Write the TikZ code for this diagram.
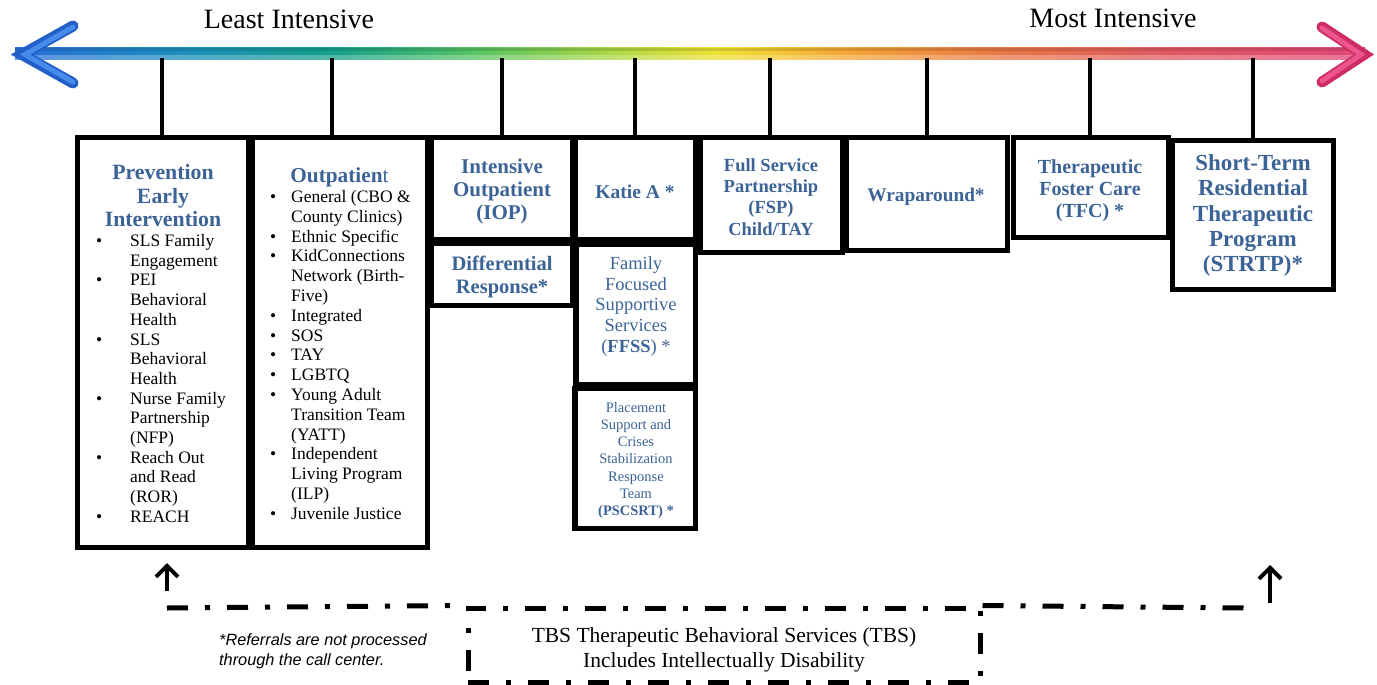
\documentclass[tikz,border=0pt]{standalone}
\usepackage{fontspec}
\setmainfont{Liberation Serif}
\setsansfont{Liberation Sans}
\usetikzlibrary{arrows.meta}
\definecolor{tblue}{RGB}{60,99,150}
\definecolor{sc0}{RGB}{40,110,215}
\definecolor{sc1}{RGB}{30,140,195}
\definecolor{sc2}{RGB}{20,160,140}
\definecolor{sc3}{RGB}{85,195,100}
\definecolor{sc4}{RGB}{165,215,70}
\definecolor{sc5}{RGB}{240,225,50}
\definecolor{sc6}{RGB}{245,165,55}
\definecolor{sc7}{RGB}{232,120,70}
\definecolor{sc8}{RGB}{225,92,95}
\definecolor{sc9}{RGB}{225,70,120}
\definecolor{lhdark}{RGB}{35,95,200}
\definecolor{lhlight}{RGB}{70,140,235}
\definecolor{rhdark}{RGB}{205,45,100}
\definecolor{rhlight}{RGB}{235,85,140}
\pgfdeclarehorizontalshading{spectrum}{100bp}{color(0bp)=(sc0); color(25bp)=(sc0); color(30.4bp)=(sc1); color(36.7bp)=(sc2); color(41.9bp)=(sc3); color(46.7bp)=(sc4); color(51.1bp)=(sc5); color(55.9bp)=(sc6); color(61.5bp)=(sc7); color(67bp)=(sc8); color(75bp)=(sc9); color(100bp)=(sc9)}
\newcommand\fsz[2]{\fontsize{#1}{#2}\selectfont}
\begin{document}
\begin{tikzpicture}[x=1pt,y=-1pt,
  box/.style={draw=black, line width=5pt, inner sep=0pt},
  boxline/.style={line width=5pt},
  tick/.style={line width=4pt},
  ttl/.style={text=tblue, align=center, inner sep=0pt},
  lst/.style={inner sep=0pt, anchor=base west},
  dashdot/.style={line width=5pt, dash pattern=on 21pt off 17pt on 5pt off 17pt},
  uparrow/.style={line width=4pt, -{Straight Barb[length=11pt,width=22pt]}}
]
\useasboundingbox (0,0) rectangle (1377,685);

% ---- spectrum axis ----
\shade[shading=spectrum] (15,48) rectangle (1365,60);
\fill[black, opacity=0.12] (15,48) rectangle (1365,51);
\fill[white, opacity=0.25] (15,55) rectangle (1365,60);
\coordinate (axis) at (0,58);
\draw[lhdark, line width=11pt, line cap=round, line join=miter] (73,26) -- (22,54.5) -- (73,83);
\draw[lhlight, line width=5pt, line cap=round, line join=miter] (73,27) -- (25,54.5) -- (73,82);
\draw[rhdark, line width=11pt, line cap=round, line join=miter] (1322,27) -- (1364,54.5) -- (1322,82);
\draw[rhlight, line width=5pt, line cap=round, line join=miter] (1322,28) -- (1361,54.5) -- (1322,81);

\node[inner sep=0pt, font=\fsz{28}{32}] (least) at (289,19) {Least Intensive};
\node[inner sep=0pt, font=\fsz{28}{32}] (most) at (1113,18) {Most Intensive};

% ---- boxes ----
\node[box, minimum width=171pt, minimum height=410pt] (pei) at (163,342.5) {};
\node[box, minimum width=174.5pt, minimum height=410pt] (op) at (339.75,342.5) {};
\node[box, minimum width=141.5pt, minimum height=101.5pt] (iop) at (501.75,188.25) {};
\node[box, minimum width=141.5pt, minimum height=62.5pt] (diff) at (501.75,274.25) {};
\node[box, minimum width=120pt, minimum height=101.5pt] (katie) at (635,188.25) {};
\node[box, minimum width=118.5pt, minimum height=140pt] (ffss) at (635.75,314) {};
\node[box, minimum width=121pt, minimum height=140pt] (pscsrt) at (634.5,458.5) {};
\node[box, minimum width=142pt, minimum height=114.5pt] (fsp) at (771,194.75) {};
\node[box, minimum width=161pt, minimum height=112.5pt] (wrap) at (926.5,193.75) {};
\node[box, minimum width=155pt, minimum height=99.5pt] (tfc) at (1090.5,187.25) {};
\node[box, minimum width=161pt, minimum height=149pt] (strtp) at (1252.5,214.5) {};
\draw[boxline] (diff.south east) -- (diff.south east |- pscsrt.south);

% ---- ticks ----
\draw[tick] ([xshift=-1pt]pei.north) -- ([xshift=-1pt]pei.north |- axis);
\draw[tick] ([xshift=-7.75pt]op.north) -- ([xshift=-7.75pt]op.north |- axis);
\draw[tick] (iop.north) -- (iop.north |- axis);
\draw[tick] (katie.north) -- (katie.north |- axis);
\draw[tick] ([xshift=-1pt]fsp.north) -- ([xshift=-1pt]fsp.north |- axis);
\draw[tick] (wrap.north) -- (wrap.north |- axis);
\draw[tick] ([xshift=-0.5pt]tfc.north) -- ([xshift=-0.5pt]tfc.north |- axis);
\draw[tick] (strtp.north) -- (strtp.north |- axis);

% ---- texts ----
\node[ttl, font=\fsz{21.8}{23.5}\bfseries] (peittl) at (163,196) {Prevention\\Early\\Intervention};
\node[lst] (peilist) at (96,246.5) {\fsz{17.5}{19.7}\begin{tabular}[t]{@{}p{34pt}@{}l@{}}
\textbullet & SLS Family\\
 & Engagement\\
\textbullet & PEI\\
 & Behavioral\\
 & Health\\
\textbullet & SLS\\
 & Behavioral\\
 & Health\\
\textbullet & Nurse Family\\
 & Partnership\\
 & (NFP)\\
\textbullet & Reach Out\\
 & and Read\\
 & (ROR)\\
\textbullet & REACH
\end{tabular}};

\node[ttl, font=\fsz{21.3}{23.5}] (opttl) at (339.5,177) {\textbf{Outpatien}t};
\node[lst] (oplist) at (270,202.5) {\fsz{17.5}{19.8}\begin{tabular}[t]{@{}p{21pt}@{}l@{}}
\textbullet & General (CBO \&\\
 & County Clinics)\\
\textbullet & Ethnic Specific\\
\textbullet & KidConnections\\
 & Network (Birth-\\
 & Five)\\
\textbullet & Integrated\\
\textbullet & SOS\\
\textbullet & TAY\\
\textbullet & LGBTQ\\
\textbullet & Young Adult\\
 & Transition Team\\
 & (YATT)\\
\textbullet & Independent\\
 & Living Program\\
 & (ILP)\\
\textbullet & Juvenile Justice
\end{tabular}};

\node[ttl, font=\fsz{21}{23}\bfseries] (iopt) at (502,191) {Intensive\\Outpatient\\(IOP)};
\node[ttl, font=\fsz{20.5}{23}\bfseries] (difft) at (502,276.5) {Differential\\Response*};
\node[ttl, font=\fsz{19.5}{22}\bfseries] (katiet) at (635,192) {Katie A *};
\node[ttl, font=\fsz{18.5}{20.7}] (ffsst) at (636,306.5) {Family\\Focused\\Supportive\\Services\\(\textbf{FFSS}) *};
\node[ttl, font=\fsz{14.5}{17.3}] (pscsrtt) at (636,460.5) {Placement\\Support and\\Crises\\Stabilization\\Response\\Team\\\textbf{(PSCSRT) *}};
\node[ttl, font=\fsz{18.5}{21.3}\bfseries] (fspt) at (771,197) {Full Service\\Partnership\\(FSP)\\Child/TAY};
\node[ttl, font=\fsz{19.3}{22}\bfseries] (wrapt) at (926,197) {Wraparound*};
\node[ttl, font=\fsz{20}{22}\bfseries] (tfct) at (1090,190.5) {Therapeutic\\Foster Care\\(TFC) *};
\node[ttl, font=\fsz{23}{25.2}\bfseries] (strtpt) at (1253,215.5) {Short-Term\\Residential\\Therapeutic\\Program\\(STRTP)*};

% ---- bottom: TBS ----
\node[draw=black, dashdot, minimum width=512pt, minimum height=74pt, inner sep=0pt] (tbs) at (724,645) {};
\node[inner sep=0pt, align=center, font=\fsz{21.5}{25}] (tbstext) at (724,650) {TBS Therapeutic Behavioral Services (TBS)\\Includes Intellectually Disability};
\coordinate (lstart) at (167,608);
\coordinate (rend) at (1245,608);
\draw[dashdot] (lstart) -- (tbs.north west);
\draw[dashdot] (tbs.north east) -- (rend);
\coordinate (lbot) at (167,591);
\coordinate (ltip) at (167,563);
\coordinate (rbot) at (1270,603);
\coordinate (rtip) at (1270,565);
\draw[uparrow] (lbot) -- (ltip);
\draw[uparrow] (rbot) -- (rtip);

\node[inner sep=0pt, anchor=west, align=left, font=\sffamily\itshape\fsz{16.3}{20}] (note) at (219,651.5) {*Referrals are not processed\\through the call center.};
\end{tikzpicture}
\end{document}
